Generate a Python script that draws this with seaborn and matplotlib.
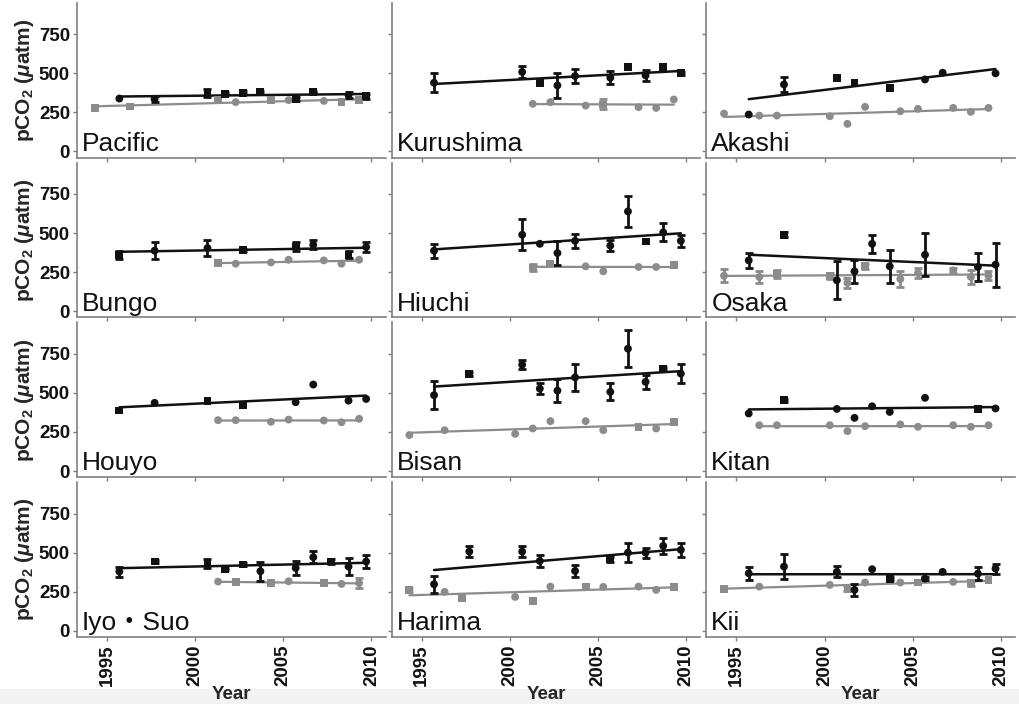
import numpy as np
import pandas as pd
import seaborn as sns
import matplotlib.pyplot as plt
from matplotlib.patches import Rectangle

# panel layout, row by row
sites = [["Pacific", "Kurushima", "Akashi"],
         ["Bungo", "Hiuchi", "Osaka"],
         ["Houyo", "Bisan", "Kitan"],
         ["Iyo・Suo", "Harima", "Kii"]]

# black series
blk_year = {
    "Pacific":   [1995.7, 1997.7, 2000.7, 2001.7, 2002.7, 2003.7, 2005.7, 2006.7, 2008.7, 2009.7],
    "Kurushima": [1995.7, 2000.7, 2001.7, 2002.7, 2003.7, 2005.7, 2006.7, 2007.7, 2008.7, 2009.7],
    "Akashi":    [1995.7, 1997.7, 2000.7, 2001.7, 2003.7, 2005.7, 2006.7, 2009.7],
    "Bungo":     [1995.7, 1997.7, 2000.7, 2002.7, 2005.7, 2006.7, 2008.7, 2009.7],
    "Hiuchi":    [1995.7, 2000.7, 2001.7, 2002.7, 2003.7, 2005.7, 2006.7, 2007.7, 2008.7, 2009.7],
    "Osaka":     [1995.7, 1997.7, 2000.7, 2001.7, 2002.7, 2003.7, 2005.7, 2008.7, 2009.7],
    "Houyo":     [1995.7, 1997.7, 2000.7, 2002.7, 2005.7, 2006.7, 2008.7, 2009.7],
    "Bisan":     [1995.7, 1997.7, 2000.7, 2001.7, 2002.7, 2003.7, 2005.7, 2006.7, 2007.7, 2008.7, 2009.7],
    "Kitan":     [1995.7, 1997.7, 2000.7, 2001.7, 2002.7, 2003.7, 2005.7, 2008.7, 2009.7],
    "Iyo・Suo":  [1995.7, 1997.7, 2000.7, 2001.7, 2002.7, 2003.7, 2005.7, 2006.7, 2007.7, 2008.7, 2009.7],
    "Harima":    [1995.7, 1997.7, 2000.7, 2001.7, 2003.7, 2005.7, 2006.7, 2007.7, 2008.7, 2009.7],
    "Kii":       [1995.7, 1997.7, 2000.7, 2001.7, 2002.7, 2003.7, 2005.7, 2006.7, 2008.7, 2009.7],
}
blk_pco2 = {
    "Pacific":   [338, 335, 375, 368, 375, 379, 336, 379, 360, 353],
    "Kurushima": [439, 508, 435, 422, 482, 471, 540, 486, 540, 499],
    "Akashi":    [236, 428, 471, 439, 407, 460, 503, 499],
    "Bungo":     [361, 387, 404, 393, 414, 425, 361, 410],
    "Hiuchi":    [387, 489, 431, 372, 450, 419, 638, 446, 504, 450],
    "Osaka":     [325, 489, 198, 255, 431, 287, 361, 283, 298],
    "Houyo":     [387, 436, 446, 419, 440, 553, 450, 461],
    "Bisan":     [485, 620, 680, 527, 514, 599, 506, 782, 570, 654, 623],
    "Kitan":     [368, 453, 397, 340, 414, 378, 468, 397, 400],
    "Iyo・Suo":  [379, 443, 432, 396, 424, 381, 402, 471, 443, 411, 443],
    "Harima":    [298, 507, 507, 447, 383, 458, 500, 500, 543, 518],
    "Kii":       [368, 411, 377, 262, 394, 334, 334, 377, 366, 398],
}
blk_err = {
    "Pacific":   [0, 22, 25, 10, 10, 10, 15, 8, 20, 15],
    "Kurushima": [60, 37, 0, 78, 47, 40, 0, 35, 0, 10],
    "Akashi":    [0, 49, 0, 0, 0, 0, 0, 0],
    "Bungo":     [27, 55, 49, 8, 30, 30, 22, 32],
    "Hiuchi":    [46, 98, 0, 74, 45, 35, 100, 0, 58, 40],
    "Osaka":     [48, 15, 122, 72, 58, 104, 138, 90, 140],
    "Houyo":     [0, 0, 0, 0, 0, 0, 0, 0],
    "Bisan":     [88, 15, 30, 37, 73, 85, 54, 119, 45, 10, 60],
    "Kitan":     [0, 10, 0, 0, 0, 0, 0, 0, 0],
    "Iyo・Suo":  [32, 12, 29, 8, 8, 61, 43, 38, 15, 53, 40],
    "Harima":    [53, 37, 37, 36, 40, 15, 60, 32, 50, 43],
    "Kii":       [43, 82, 35, 40, 0, 12, 10, 0, 43, 32],
}
# c = circle-type record, s = square-type record
blk_kind = {
    "Pacific": "ccsssssscs", "Kurushima": "ccscccscss", "Akashi": "ccsssccc",
    "Bungo": "sccsscsc", "Hiuchi": "cccccccscc", "Osaka": "csccccccc",
    "Houyo": "scsscccc", "Bisan": "cscccccccsc", "Kitan": "cscccccsc",
    "Iyo・Suo": "csssscccscc", "Harima": "cccccscccc", "Kii": "cccccscccc",
}

# gray series
gry_year = {
    "Pacific":   [1994.3, 1996.3, 2001.3, 2002.3, 2004.3, 2005.3, 2007.3, 2008.3, 2009.3],
    "Kurushima": [2001.3, 2002.3, 2004.3, 2005.3, 2007.3, 2008.3, 2009.3],
    "Akashi":    [1994.3, 1996.3, 1997.3, 2000.3, 2001.3, 2002.3, 2004.3, 2005.3, 2007.3, 2008.3, 2009.3],
    "Bungo":     [2001.3, 2002.3, 2004.3, 2005.3, 2007.3, 2008.3, 2009.3],
    "Hiuchi":    [2001.3, 2002.3, 2004.3, 2005.3, 2007.3, 2008.3, 2009.3],
    "Osaka":     [1994.3, 1996.3, 1997.3, 2000.3, 2001.3, 2002.3, 2004.3, 2005.3, 2007.3, 2008.3, 2009.3],
    "Houyo":     [2001.3, 2002.3, 2004.3, 2005.3, 2007.3, 2008.3, 2009.3],
    "Bisan":     [1994.3, 1996.3, 2000.3, 2001.3, 2002.3, 2004.3, 2005.3, 2007.3, 2008.3, 2009.3],
    "Kitan":     [1996.3, 1997.3, 2000.3, 2001.3, 2002.3, 2004.3, 2005.3, 2007.3, 2008.3, 2009.3],
    "Iyo・Suo":  [2001.3, 2002.3, 2004.3, 2005.3, 2007.3, 2008.3, 2009.3],
    "Harima":    [1994.3, 1996.3, 1997.3, 2000.3, 2001.3, 2002.3, 2004.3, 2005.3, 2007.3, 2008.3, 2009.3],
    "Kii":       [1994.3, 1996.3, 2000.3, 2001.3, 2002.3, 2004.3, 2005.3, 2007.3, 2008.3, 2009.3],
}
gry_pco2 = {
    "Pacific":   [278, 287, 332, 315, 328, 328, 323, 317, 328],
    "Kurushima": [304, 315, 293, 300, 283, 278, 332],
    "Akashi":    [242, 229, 229, 225, 176, 285, 257, 272, 278, 253, 278],
    "Bungo":     [308, 304, 312, 329, 325, 304, 329],
    "Hiuchi":    [280, 302, 287, 255, 283, 283, 293],
    "Osaka":     [227, 219, 240, 227, 181, 287, 206, 244, 261, 219, 227],
    "Houyo":     [325, 325, 315, 329, 323, 312, 334],
    "Bisan":     [230, 261, 238, 272, 319, 319, 261, 283, 272, 312],
    "Kitan":     [293, 293, 293, 255, 287, 298, 283, 293, 283, 293],
    "Iyo・Suo":  [315, 310, 306, 317, 306, 300, 306],
    "Harima":    [262, 249, 209, 217, 192, 283, 281, 281, 283, 262, 283],
    "Kii":       [266, 283, 294, 270, 309, 309, 309, 313, 305, 326],
}
gry_err = {
    "Pacific":   [0, 0, 0, 0, 0, 0, 0, 0, 0],
    "Kurushima": [0, 0, 0, 32, 0, 0, 0],
    "Akashi":    [0, 0, 0, 0, 0, 0, 0, 0, 0, 0, 0],
    "Bungo":     [0, 0, 0, 0, 0, 0, 0],
    "Hiuchi":    [25, 0, 0, 0, 0, 0, 0],
    "Osaka":     [42, 40, 25, 20, 30, 15, 50, 30, 15, 45, 30],
    "Houyo":     [0, 0, 0, 0, 0, 0, 0],
    "Bisan":     [0, 0, 0, 0, 0, 0, 0, 0, 0, 0],
    "Kitan":     [0, 0, 0, 0, 0, 0, 0, 0, 0, 0],
    "Iyo・Suo":  [0, 0, 0, 0, 0, 0, 34],
    "Harima":    [15, 0, 0, 0, 0, 0, 0, 0, 0, 0, 0],
    "Kii":       [0, 0, 0, 15, 0, 0, 0, 0, 15, 0],
}
gry_kind = {
    "Pacific": "ssscsccss", "Kurushima": "cccsccc", "Akashi": "ccccccccccc",
    "Bungo": "scccccc", "Hiuchi": "ssccccs", "Osaka": "ccsscsccccc",
    "Houyo": "ccccccc", "Bisan": "cccccccscs", "Kitan": "cccccccccc",
    "Iyo・Suo": "csscscc", "Harima": "scscscscccs", "Kii": "sccsccscss",
}

BLACK = "#111111"
GRAY = "#8c8c8c"
AXCOL = "#808080"

sns.set_theme(style="white")
plt.rcParams['font.family'] = ['Liberation Sans', 'Noto Sans CJK JP', 'DejaVu Sans']
plt.rcParams['mathtext.fontset'] = 'custom'
plt.rcParams['mathtext.rm'] = 'Liberation Sans:bold'
plt.rcParams['mathtext.it'] = 'Liberation Sans:italic:bold'
plt.rcParams['mathtext.bf'] = 'Liberation Sans:bold'

fig, axes = plt.subplots(4, 3, figsize=(10.19, 7.04), dpi=100, sharex=True, sharey=True)
fig.subplots_adjust(left=0.0756, right=0.996, top=0.996, bottom=0.095, wspace=0.02, hspace=0.032)

def draw_series(ax, yr, val, err, kind, col, lw):
    df = pd.DataFrame({"year": yr, "pco2": val, "err": err, "kind": list(kind)})
    sns.regplot(data=df, x="year", y="pco2", scatter=False, ci=None, color=col,
                line_kws={"lw": lw, "zorder": 2}, ax=ax)
    e = df[df.err > 0]
    if len(e):
        ax.errorbar(e.year, e.pco2, yerr=e.err, fmt="none", ecolor=col,
                    elinewidth=2, capsize=3.2, capthick=2, zorder=3)
    sns.scatterplot(data=df, x="year", y="pco2", style="kind",
                    markers={"c": "o", "s": "s"}, color=col, s=32, linewidth=0,
                    legend=False, ax=ax, zorder=4)

for r in range(4):
    for c in range(3):
        ax = axes[r, c]
        site = sites[r][c]
        draw_series(ax, gry_year[site], gry_pco2[site], gry_err[site], gry_kind[site], GRAY, 1.6)
        draw_series(ax, blk_year[site], blk_pco2[site], blk_err[site], blk_kind[site], BLACK, 1.8)

        ax.set_xlim(1993.3, 2010.8)
        ax.set_ylim(-40, 950)
        ax.set_xticks([1995, 2000, 2005, 2010])
        ax.set_yticks([0, 250, 500, 750])
        for s in ["top", "right"]:
            ax.spines[s].set_visible(False)
        for s in ["left", "bottom"]:
            ax.spines[s].set_color(AXCOL)
            ax.spines[s].set_linewidth(1.2)
        ax.tick_params(bottom=True, left=True, direction="out", length=3, width=1,
                       color=AXCOL, labelsize=13.5, pad=2, labelcolor="#111111")
        ax.tick_params(axis="x", labelrotation=90)
        plt.setp(ax.get_xticklabels() + ax.get_yticklabels(), fontweight="bold")

        ax.text(0.016, 0.045, site, transform=ax.transAxes, fontsize=19,
                ha="left", va="baseline", color="#111111")

        ax.set_xlabel("Year" if r == 3 else "", fontsize=13.5, fontweight="bold", labelpad=0)
        ax.set_ylabel(r"pCO$_2$ ($\mu$atm)" if c == 0 else "", fontsize=15,
                      fontweight="bold", labelpad=2)

# light band along the bottom edge of the original image
fig.patches.append(Rectangle((0, 0), 1, 0.022, transform=fig.transFigure,
                             color="#f3f3f3", zorder=-1))

fig.savefig("out.png", dpi=100)
